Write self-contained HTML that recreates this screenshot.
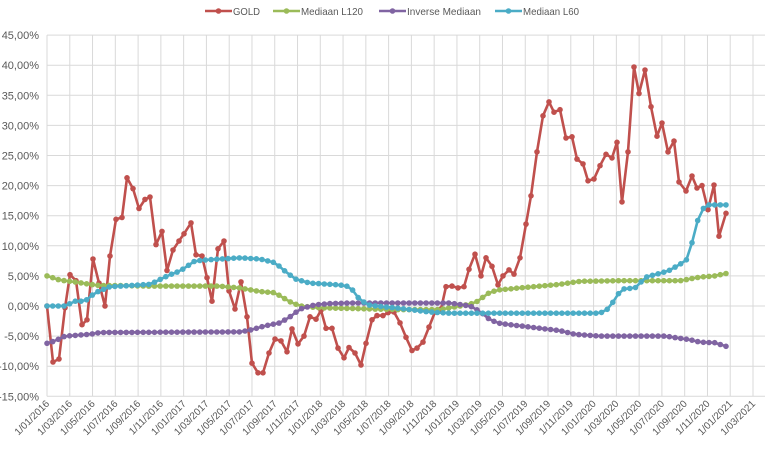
<!DOCTYPE html>
<html><head><meta charset="utf-8"><style>
html,body{margin:0;padding:0;background:#fff;}
svg{display:block;font-family:"Liberation Sans",sans-serif;}
</style></head><body>
<svg id="c" width="779" height="449" xmlns="http://www.w3.org/2000/svg"></svg>
<script>
const S=document.getElementById('c');let h='';
const y0=306,pp=6.02,Y=v=>y0-v*pp;
const X0=47,dx=(753-47)/31;
for(let i=0;i<=12;i++){const v=45-i*5,y=Y(v);h+=`<line x1="47" x2="765" y1="${y}" y2="${y}" stroke="#d9d9d9" stroke-width="1"/>`;
h+=`<text x="39" y="${y+4}" font-size="11" fill="#595959" text-anchor="end">${v.toFixed(2).replace('.',',')}%</text>`;}
const months=['01','03','05','07','09','11'];let k=0;
for(let yr=2016;yr<=2021;yr++)for(const m of months){if(yr==2021&&m>'03')continue;const x=X0+k*dx;
h+=`<line x1="${x}" x2="${x}" y1="${Y(45)}" y2="${Y(-15)}" stroke="#d9d9d9" stroke-width="1"/>`;
h+=`<text transform="translate(${x+3},${Y(-15)+8}) rotate(-45)" font-size="10" fill="#595959" text-anchor="end">1/${m}/${yr}</text>`;k++;}
function interp(kp,x){for(let i=0;i<kp.length-1;i++){if(x<=kp[i+1][0]){const t=(x-kp[i][0])/(kp[i+1][0]-kp[i][0]);return kp[i][1]+t*(kp[i+1][1]-kp[i][1]);}}return kp[kp.length-1][1];}
function series(pts,col){let d=pts.map((p,i)=>(i?'L':'M')+p[0].toFixed(1)+' '+Y(p[1]).toFixed(1)).join(' ');
let s=`<path d="${d}" fill="none" stroke="${col}" stroke-width="2.6" stroke-linejoin="round"/>`;
for(const p of pts)s+=`<circle cx="${p[0].toFixed(1)}" cy="${Y(p[1]).toFixed(1)}" r="2.8" fill="${col}"/>`;return s;}
function gen(kp){const a=[];for(let i=0;i<=120;i++){const x=47+i*(726-47)/120;a.push([x,interp(kp,x)]);}return a;}
const green=[[47,5],[60,4.3],[75,4],[90,3.6],[100,3.4],[120,3.4],[150,3.3],[220,3.3],[240,3],[260,2.4],[275,2.2],[290,0.7],[300,0],[320,-0.3],[400,-0.6],[440,-0.6],[460,0],[475,0.5],[490,2.3],[500,2.7],[520,3],[560,3.6],[580,4.1],[620,4.2],[680,4.2],[700,4.8],[715,5],[726,5.4]];
const blue=[[47,0],[65,0],[75,0.8],[85,0.8],[95,2.2],[110,3.2],[130,3.4],[150,3.6],[160,4.4],[170,5.2],[180,5.8],[195,7.5],[210,7.7],[240,8.0],[260,7.8],[275,7.2],[285,5.8],[295,4.5],[310,3.8],[340,3.5],[350,3.2],[360,1.0],[370,0.1],[400,-0.4],[430,-1.0],[450,-1.2],[600,-1.2],[610,-0.3],[615,1.3],[622,2.8],[635,3],[646,4.8],[668,5.8],[686,7.5],[691,9.8],[697,13.9],[702,16],[707,16.8],[726,16.8]];
const purple=[[47,-6.2],[55,-5.8],[65,-5],[90,-4.7],[100,-4.4],[240,-4.3],[250,-4],[265,-3.3],[280,-2.8],[290,-1.8],[300,-0.5],[315,0.2],[330,0.4],[350,0.5],[450,0.5],[470,0],[480,-0.9],[490,-2.3],[500,-2.9],[520,-3.3],[560,-4.1],[575,-4.7],[600,-5],[665,-5],[690,-5.6],[700,-6],[715,-6.1],[726,-6.7]];
const gold=[[47,0],[53,-9.3],[59,-8.8],[65,-0.3],[70,5.2],[76,4.2],[82,-3.1],[87,-2.3],[93,7.8],[99,3.8],[105,0],[110,8.3],[116,14.4],[122,14.7],[127,21.3],[133,19.5],[139,16.2],[145,17.7],[150,18.1],[156,10.2],[162,12.4],[167,5.9],[173,9.3],[179,10.8],[184,12],[191,13.8],[196,8.5],[202,8.3],[207,4.7],[212,0.8],[218,9.5],[224,10.8],[229,2.5],[235,-0.5],[241,4.0],[247,-1.8],[252,-9.5],[258,-11.1],[263,-11.1],[269,-7.8],[275,-5.5],[281,-5.8],[287,-7.6],[292,-3.8],[298,-6.3],[304,-5],[310,-1.8],[316,-2.2],[321,-0.7],[326,-3.7],[332,-3.7],[338,-7],[344,-8.6],[349,-6.9],[355,-7.8],[361,-9.8],[366,-6.2],[372,-2.3],[377,-1.6],[383,-1.6],[388,-1.1],[394,-1],[400,-2.8],[406,-5.2],[412,-7.4],[417,-7],[423,-6],[429,-3.5],[435,-1],[441,-0.5],[446,3.2],[452,3.3],[458,3.0],[464,3.2],[469,6.1],[475,8.6],[481,5],[486,8],[492,6.6],[498,3.5],[503,5],[509,6],[514,5.3],[520,8],[526,13.6],[531,18.3],[537,25.6],[543,31.6],[549,33.9],[554,32.2],[560,32.6],[566,27.9],[572,28.1],[577,24.4],[583,23.6],[588,20.8],[594,21.1],[600,23.3],[606,25.2],[612,24.6],[617,27.2],[622,17.3],[628,25.6],[634,39.7],[639,35.3],[645,39.2],[651,33.1],[657,28.2],[662,30.4],[668,25.6],[674,27.4],[679,20.6],[686,19.1],[692,21.6],[697,19.6],[702,20],[708,16],[714,20.1],[719,11.6],[726,15.4]];
h+=series(gold,'#C0504D');
h+=series(gen(green),'#9BBB59');
h+=series(gen(purple),'#8064A2');
h+=series(gen(blue),'#4BACC6');
const L=[['GOLD','#C0504D',205,27],['Mediaan L120','#9BBB59',273,62],['Inverse Mediaan','#8064A2',379,74],['Mediaan L60','#4BACC6',495,56]];
for(const [t,c,x,w] of L){h+=`<line x1="${x}" x2="${x+27}" y1="11" y2="11" stroke="${c}" stroke-width="2.6"/><circle cx="${x+13.5}" cy="11" r="2.8" fill="${c}"/><text x="${x+28}" y="15" font-size="10.5" fill="#595959" textLength="${w}" lengthAdjust="spacingAndGlyphs">${t}</text>`;}
S.innerHTML=h;
</script>
</body></html>
